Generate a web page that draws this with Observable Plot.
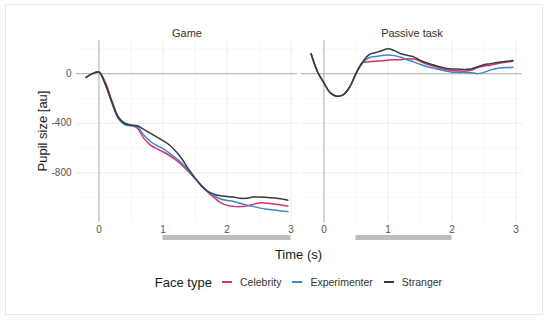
<!DOCTYPE html>
<html>
<head>
<meta charset="utf-8">
<script src="https://cdn.jsdelivr.net/npm/d3@7"></script>
<script src="https://cdn.jsdelivr.net/npm/@observablehq/plot@0.6"></script>
<style>
  html, body { margin: 0; padding: 0; background: #fff; }
  #wrap { position: relative; width: 550px; height: 322px; font-family: "Liberation Sans", Arial, sans-serif; overflow: hidden; }
  #frame { position: absolute; left: 5px; top: 4px; width: 538px; height: 311px; border: 1px solid #e9e9e9; box-sizing: border-box; }
  #chart { position: absolute; left: 0; top: 0; }
  #ytitle { position: absolute; left: 42px; top: 131px; transform: translate(-50%, -50%) rotate(-90deg); font-size: 13px; color: #1a1a1a; white-space: nowrap; }
  #xtitle { position: absolute; left: 75px; width: 447px; top: 247px; text-align: center; font-size: 13px; color: #1a1a1a; }
  #legend { position: absolute; left: 0; width: 597px; top: 274px; height: 16px; display: flex; justify-content: center; align-items: center; color: #1a1a1a; }
  #legend .title { font-size: 13px; margin-right: 10px; }
  #legend .key { width: 10px; height: 2px; margin-right: 8px; }
  #legend .lab { font-size: 10.5px; margin-right: 11px; color: #333; }
  #legend .lab:last-child { margin-right: 0; }
</style>
</head>
<body>
<div id="wrap">
  <div id="frame"></div>
  <div id="chart"></div>
  <div id="ytitle">Pupil size [au]</div>
  <div id="xtitle">Time (s)</div>
  <div id="legend"></div>
</div>
<script>
// ---- Data ----
const tasks = ["Game", "Passive task"];
const faceTypes = ["Celebrity", "Experimenter", "Stranger"];
const faceColors = ["#d6336a", "#3b88cc", "#3a3a3a"];
const times = [-0.2, -0.1, 0, 0.1, 0.2, 0.3, 0.4, 0.5, 0.6, 0.7, 0.8, 0.9, 1.0, 1.1, 1.2, 1.3, 1.4, 1.5, 1.6, 1.7, 1.8, 1.9, 2.0, 2.1, 2.2, 2.3, 2.4, 2.5, 2.6, 2.7, 2.8, 2.9, 2.95];

// Game
const gameCelebrity    = [-30, 0, 15, -70, -215, -345, -400, -415, -440, -520, -575, -605, -630, -660, -695, -740, -790, -845, -900, -955, -1000, -1040, -1062, -1070, -1072, -1067, -1055, -1042, -1042, -1048, -1055, -1063, -1067];
const gameExperimenter = [-30, 0, 10, -90, -235, -360, -410, -420, -430, -495, -545, -578, -605, -640, -680, -725, -785, -845, -905, -950, -985, -1010, -1022, -1030, -1045, -1058, -1070, -1082, -1092, -1098, -1103, -1110, -1112];
const gameStranger     = [-30, 0, 12, -85, -225, -350, -400, -415, -420, -450, -480, -510, -540, -575, -625, -690, -770, -840, -905, -950, -972, -985, -990, -995, -1005, -1005, -995, -994, -997, -1000, -1006, -1015, -1020];
// Passive task
const passCelebrity    = [160, 15, -75, -155, -182, -172, -110, 0, 88, 95, 100, 103, 108, 112, 112, 120, 118, 100, 78, 62, 45, 32, 26, 22, 20, 28, 50, 62, 68, 80, 90, 96, 99];
const passExperimenter = [160, 15, -75, -155, -182, -172, -110, 0, 85, 128, 138, 145, 151, 145, 132, 112, 95, 75, 58, 45, 33, 22, 12, 10, 10, 8, 0, 10, 30, 42, 48, 50, 51];
const passStranger     = [160, 15, -75, -155, -182, -172, -110, 0, 90, 152, 168, 185, 200, 185, 160, 148, 135, 108, 88, 72, 55, 44, 38, 36, 34, 38, 55, 72, 80, 90, 96, 102, 105];

// Analysis windows (gray bars under the x axis)
const windowTask  = ["Game", "Passive task"];
const windowStart = [1, 0.5];
const windowEnd   = [3, 2];

const yTicks = [0, -400, -800];
const yMinor = [200, -200, -600, -1000];
const xTicks = [0, 1, 2, 3];
const xMinor = [0.5, 1.5, 2.5];

// ---- Build tables ----
const seriesTable = [
  ["Game", "Celebrity", gameCelebrity],
  ["Game", "Experimenter", gameExperimenter],
  ["Game", "Stranger", gameStranger],
  ["Passive task", "Celebrity", passCelebrity],
  ["Passive task", "Experimenter", passExperimenter],
  ["Passive task", "Stranger", passStranger]
];
const data = seriesTable.flatMap(([task, type, vals]) => vals.map((v, i) => ({task, type, t: times[i], v})));
const windows = windowTask.map((task, i) => ({task, start: windowStart[i], end: windowEnd[i]}));

const yDomain = [-1200, 267];

const chart = Plot.plot({
  width: 550,
  height: 250,
  marginLeft: 75,
  marginRight: 28,
  marginTop: 40,
  marginBottom: 28,
  style: { fontFamily: "Liberation Sans, Arial, sans-serif", background: "transparent", overflow: "visible" },
  fx: { domain: tasks, padding: 0.018, label: null },
  x: { domain: [-0.35, 3.1], label: null },
  y: { domain: yDomain, label: null },
  color: { domain: faceTypes, range: faceColors },
  marks: [
    Plot.ruleY(yMinor, { stroke: "#f2f2f2", strokeWidth: 0.6 }),
    Plot.ruleX(xMinor, { stroke: "#f2f2f2", strokeWidth: 0.6 }),
    Plot.ruleY(yTicks, { stroke: "#ebebeb", strokeWidth: 1 }),
    Plot.ruleX(xTicks, { stroke: "#ebebeb", strokeWidth: 1 }),
    Plot.ruleY([0], { stroke: "#bdbdbd", strokeWidth: 1.2 }),
    Plot.ruleX([0], { stroke: "#bdbdbd", strokeWidth: 1.2 }),
    Plot.axisFx({ anchor: "top", tickSize: 0, tickPadding: 4, fontSize: 11, fill: "#333", label: null }),
    Plot.axisX({ ticks: xTicks, tickFormat: d => String(d), tickSize: 0, tickPadding: 3, fontSize: 10, fill: "#555", label: null }),
    Plot.axisY({ ticks: yTicks, tickFormat: d => String(d), tickSize: 0, tickPadding: 5, fontSize: 10, fill: "#555", label: null }),
    Plot.ruleY(windows, { fx: "task", x1: "start", x2: "end", y: () => yDomain[0], dy: 15, stroke: "#bebebe", strokeWidth: 5 }),
    Plot.line(data, { fx: "task", x: "t", y: "v", z: "type", stroke: "type", curve: "catmull-rom", strokeWidth: 1.5 })
  ]
});
document.getElementById("chart").appendChild(chart);

// ---- Legend ----
const legend = document.getElementById("legend");
const title = document.createElement("span");
title.className = "title";
title.textContent = "Face type";
legend.appendChild(title);
faceTypes.forEach((name, i) => {
  const key = document.createElement("span");
  key.className = "key";
  key.style.background = faceColors[i];
  legend.appendChild(key);
  const lab = document.createElement("span");
  lab.className = "lab";
  lab.textContent = name;
  legend.appendChild(lab);
});
</script>
</body>
</html>
